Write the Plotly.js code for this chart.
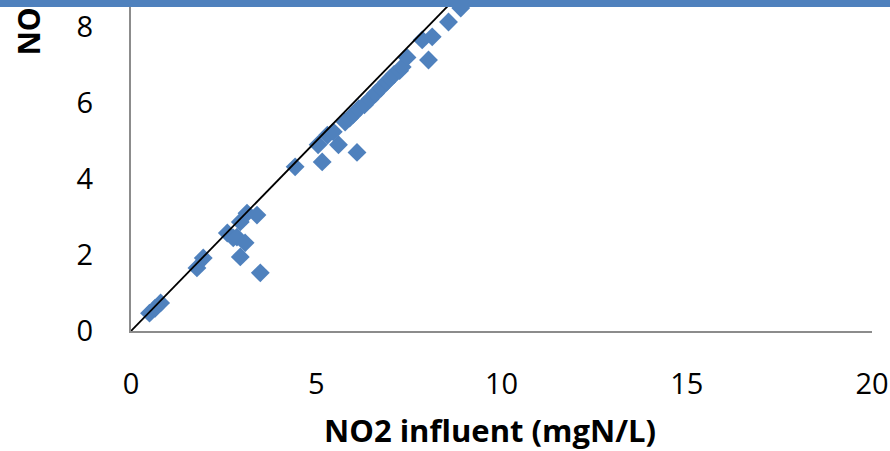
<!DOCTYPE html>
<html>
<head>
<meta charset="utf-8">
<script src="https://cdn.plot.ly/plotly-3.0.1.min.js"></script>
<style>
html,body{margin:0;padding:0;background:#fff;}
#wrap{position:relative;width:890px;height:451px;overflow:hidden;}
#chart{width:890px;height:451px;}
#band{position:absolute;left:0;top:0;width:890px;height:7px;background:#4F81BD;z-index:10;}
</style>
</head>
<body>
<div id="wrap"><div id="chart"></div><div id="band"></div></div>
<script>
// NO2 influent (x) vs NO2 effluent (y), mgN/L
var influent = [0.5, 0.65, 0.8, 1.78, 1.95, 2.6, 2.76, 2.86, 2.95, 3.13, 3.4, 2.95, 3.08, 3.49,
  4.43, 5.05, 5.16, 5.6, 6.1, 5.3, 5.46, 5.78, 5.9, 6.0, 6.15, 6.3, 6.45, 6.6, 6.75, 6.9, 7.0,
  7.1, 7.25, 7.32, 7.45, 7.86, 8.03, 8.13, 8.57, 8.9];
var effluent = [0.47, 0.6, 0.74, 1.66, 1.92, 2.58, 2.45, 2.47, 2.87, 3.1, 3.05, 1.95, 2.32, 1.53,
  4.32, 4.9, 4.45, 4.9, 4.7, 5.15, 5.24, 5.5, 5.6, 5.7, 5.85, 5.95, 6.1, 6.25, 6.4, 6.55, 6.65,
  6.75, 6.85, 6.95, 7.2, 7.66, 7.13, 7.74, 8.13, 8.5];
var lineX = [0, 20];
var lineY = [0, 20];
var xTicks = [0, 5, 10, 15, 20];
var yTicks = [0, 2, 4, 6, 8];
var xTitle = 'NO2 influent (mgN/L)';
var yTitle = 'NO2 effluent (mgN/L)';

var blue = '#4F81BD';
var fontFam = '"Open Sans", "Noto Sans", sans-serif';

var traces = [
  {x: influent, y: effluent, type: 'scatter', mode: 'markers',
   marker: {symbol: 'diamond', size: 14.5, color: blue, line: {width: 0}},
   showlegend: false, cliponaxis: true, hoverinfo: 'x+y'},
  {x: lineX, y: lineY, type: 'scatter', mode: 'lines',
   line: {color: '#000000', width: 1.8}, showlegend: false, hoverinfo: 'skip'}
];

var layout = {
  width: 890, height: 451,
  margin: {l: 131, r: 18, t: 0, b: 120, pad: 0},
  paper_bgcolor: '#ffffff', plot_bgcolor: '#ffffff',
  font: {family: fontFam, color: '#000000', size: 29},
  xaxis: {range: [0, 20], tickvals: xTicks, ticktext: xTicks.map(String),
    showgrid: false, zeroline: false, showline: true, linecolor: '#8c8c8c', linewidth: 2,
    ticks: '', ticklabelstandoff: 26, tickfont: {family: fontFam, size: 29, color: '#000'},
    fixedrange: true},
  yaxis: {range: [0, 8.71], tickvals: yTicks, ticktext: yTicks.map(String),
    showgrid: false, zeroline: false, showline: true, linecolor: '#8c8c8c', linewidth: 2,
    ticks: '', ticklabelstandoff: 30, tickfont: {family: fontFam, size: 29, color: '#000'},
    fixedrange: true},
  annotations: [
    {text: '<b>' + xTitle + '</b>', xref: 'paper', yref: 'paper', x: 0.4845, y: -0.299,
     xanchor: 'center', yanchor: 'middle', showarrow: false,
     font: {family: fontFam, size: 31, color: '#000'}},
    {text: '<b>' + yTitle + '</b>', xref: 'paper', yref: 'paper', x: -0.1377, y: 0.826,
     xanchor: 'center', yanchor: 'bottom', textangle: -90, showarrow: false,
     font: {family: fontFam, size: 30, color: '#000'}}
  ],
  shapes: [
    {type: 'rect', xref: 'paper', yref: 'paper', x0: -0.2, x1: 1.1,
     y0: 0.979, y1: 1.05, fillcolor: blue, line: {width: 0}, layer: 'above'}
  ]
};

Plotly.newPlot('chart', traces, layout, {displayModeBar: false, staticPlot: true});
</script>
</body>
</html>
